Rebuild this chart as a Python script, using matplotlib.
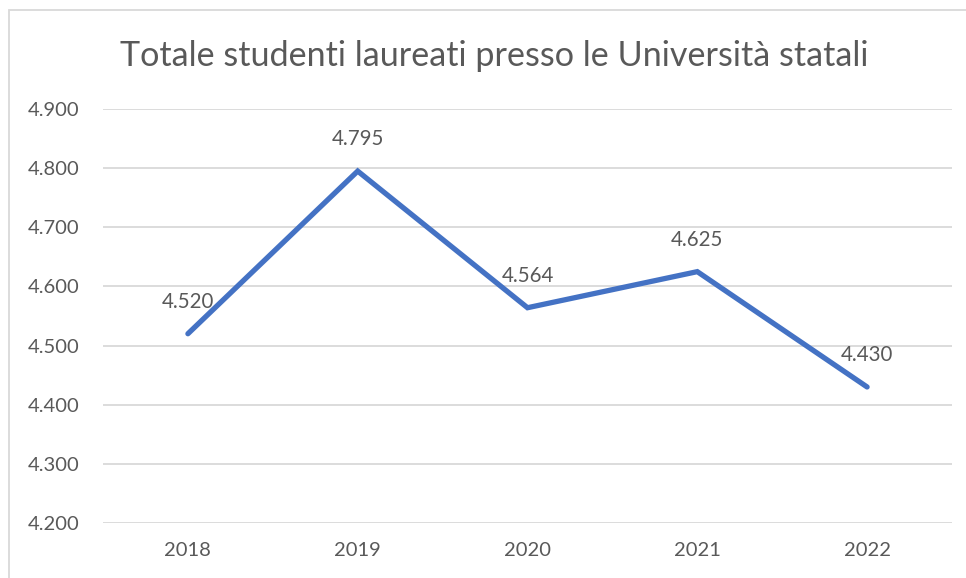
import matplotlib.pyplot as plt
from matplotlib.patches import Rectangle

# data ---------------------------------------------------------------------
anni = ["2018", "2019", "2020", "2021", "2022"]
laureati = [4520, 4795, 4564, 4625, 4430]
y_ticks = [4200, 4300, 4400, 4500, 4600, 4700, 4800, 4900]

def fmt_it(v):
    # italian thousands separator
    return f"{v:,.0f}".replace(",", ".")

plt.rcParams['font.family'] = ['Lato', 'DejaVu Sans']
grigio = '#595959'

fig = plt.figure(figsize=(9.66, 5.78), dpi=100)
ax = fig.add_axes([103 / 966, 55 / 578, (952 - 103) / 966, (523 - 109) / 578])

x = list(range(len(anni)))
ax.plot(x, laureati, color='#4472C4', linewidth=3.8, solid_capstyle='round',
        solid_joinstyle='miter', zorder=3)

for xi, v in zip(x, laureati):
    ax.annotate(fmt_it(v), (xi, v), xytext=(0, 23), textcoords='offset points',
                ha='center', va='center', fontsize=14.8, color=grigio, zorder=4)

ax.set_xlim(-0.5, len(anni) - 0.5)
ax.set_ylim(4200, 4900)
ax.set_xticks(x)
ax.set_xticklabels(anni)
ax.set_yticks(y_ticks)
ax.set_yticklabels([fmt_it(t) for t in y_ticks])
ax.tick_params(axis='both', length=0, labelsize=14.5, labelcolor=grigio)
ax.tick_params(axis='y', pad=17)
ax.tick_params(axis='x', pad=14)
ax.grid(axis='y', color='#D9D9D9', linewidth=1.3)
ax.set_axisbelow(True)
for s in ax.spines.values():
    s.set_visible(False)

fig.text(494 / 966, 1 - 56 / 578, "Totale studenti laureati presso le Università statali",
         ha='center', va='center', fontsize=24.6, color=grigio)

# chart area border (cropped on right/bottom)
border = Rectangle((8.5 / 966, -0.1), 1.2, (578 - 9.5) / 578 + 0.1,
                   transform=fig.transFigure, fill=False, edgecolor='#D9D9D9',
                   linewidth=1.3, clip_on=False)
fig.patches.append(border)

fig.savefig("out.png", dpi=100)
